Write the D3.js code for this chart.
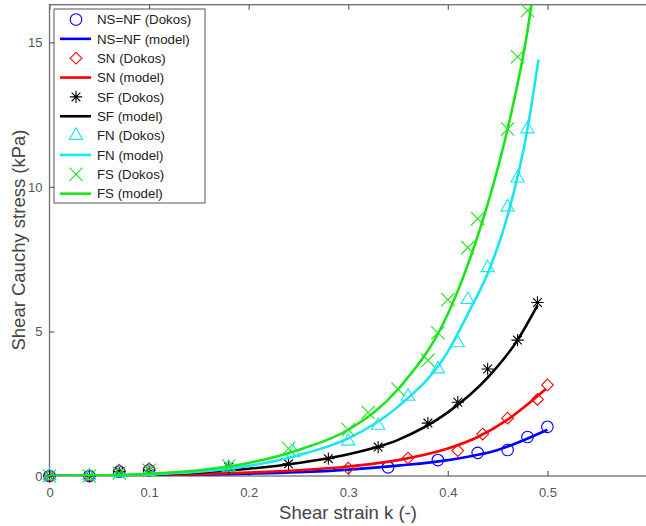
<!DOCTYPE html>
<html>
<head>
<meta charset="utf-8">
<script src="https://cdn.jsdelivr.net/npm/d3@7"></script>
<style>
  body { margin: 0; background: #fff; }
  text { font-family: "Liberation Sans", Arial, sans-serif; }
</style>
</head>
<body>
<div id="chart"></div>
<script>
// Dokos data (markers)
var nsK = [0, 0.04, 0.07, 0.1, 0.34, 0.39, 0.43, 0.46, 0.48, 0.5];
var nsV = [0, 0, 0.15, 0.2, 0.3, 0.55, 0.8, 0.9, 1.35, 1.7];
var snK = [0, 0.04, 0.07, 0.1, 0.3, 0.36, 0.41, 0.435, 0.46, 0.49, 0.5];
var snV = [0, 0, 0.2, 0.25, 0.27, 0.62, 0.88, 1.45, 2.0, 2.65, 3.15];
var sfK = [0, 0.04, 0.07, 0.1, 0.18, 0.24, 0.28, 0.33, 0.38, 0.41, 0.44, 0.47, 0.49];
var sfV = [0, 0, 0.15, 0.2, 0.3, 0.42, 0.6, 1.0, 1.83, 2.55, 3.7, 4.7, 6.0];
var fnK = [0, 0.04, 0.07, 0.1, 0.18, 0.245, 0.3, 0.33, 0.36, 0.39, 0.41, 0.42, 0.44, 0.46, 0.47, 0.48];
var fnV = [0, 0, 0.1, 0.15, 0.3, 0.8, 1.2, 1.75, 2.75, 3.7, 4.6, 6.1, 7.2, 9.3, 10.3, 12.0];
var fsK = [0, 0.04, 0.07, 0.1, 0.18, 0.24, 0.3, 0.32, 0.35, 0.38, 0.39, 0.4, 0.42, 0.43, 0.46, 0.47, 0.48];
var fsV = [0, 0, 0.1, 0.2, 0.35, 0.95, 1.6, 2.2, 3.0, 4.0, 4.95, 6.1, 7.9, 8.9, 12.0, 14.5, 16.1];

// model curves
var nsModelK = [0, 0.05, 0.1, 0.15, 0.2, 0.25, 0.3, 0.35, 0.4, 0.45, 0.5];
var nsModelV = [0, 0.005, 0.02, 0.05, 0.08, 0.13, 0.22, 0.36, 0.55, 0.9, 1.6];
var snModelK = [0, 0.05, 0.1, 0.15, 0.2, 0.25, 0.3, 0.35, 0.4, 0.43, 0.46, 0.498];
var snModelV = [0, 0.01, 0.03, 0.06, 0.12, 0.2, 0.33, 0.55, 0.95, 1.35, 1.95, 3.0];
var sfModelK = [0, 0.05, 0.1, 0.15, 0.2, 0.25, 0.3, 0.35, 0.4, 0.44, 0.47, 0.49];
var sfModelV = [0, 0.01, 0.04, 0.12, 0.25, 0.45, 0.75, 1.25, 2.2, 3.4, 4.7, 5.9];
var fnModelK = [0, 0.05, 0.1, 0.15, 0.2, 0.25, 0.3, 0.35, 0.4, 0.42, 0.44, 0.46, 0.48, 0.491];
var fnModelV = [0, 0.02, 0.06, 0.15, 0.35, 0.72, 1.3, 2.4, 4.3, 5.6, 7.0, 9.0, 12.0, 14.4];
var fsModelK = [0, 0.05, 0.1, 0.15, 0.2, 0.25, 0.3, 0.35, 0.4, 0.42, 0.44, 0.46, 0.48, 0.484];
var fsModelV = [0, 0.02, 0.08, 0.2, 0.45, 0.9, 1.6, 3.0, 5.6, 7.3, 9.4, 12.0, 15.4, 16.3];

var xTicks = [0, 0.1, 0.2, 0.3, 0.4, 0.5];
var yTicks = [0, 5, 10, 15];

var names = ["NS=NF", "SN", "SF", "FN", "FS"];
var colors = ["#0000ff", "#ff0000", "#000000", "#19e6f0", "#19e619"];

var svg = d3.select("#chart").append("svg")
  .attr("width", 646)
  .attr("height", 526);

var x = d3.scaleLinear().domain([0, 0.6]).range([49.5, 647]);
var y = d3.scaleLinear().domain([0, 16.3]).range([476, 4.7]);

// 4-line asterisk like matlab
var star = {
  draw: function(ctx, size) {
    var r = Math.sqrt(size) * 0.6, d = r * 0.7071;
    ctx.moveTo(-r, 0); ctx.lineTo(r, 0);
    ctx.moveTo(0, -r); ctx.lineTo(0, r);
    ctx.moveTo(-d, -d); ctx.lineTo(d, d);
    ctx.moveTo(-d, d); ctx.lineTo(d, -d);
  }
};
var symbols = [
  d3.symbol().type(d3.symbolCircle).size(105),
  d3.symbol().type(d3.symbolDiamond2).size(88),
  d3.symbol().type(star).size(105),
  d3.symbol().type(d3.symbolTriangle2).size(125),
  d3.symbol().type(d3.symbolTimes).size(115)
];

var series = [
  {k: nsK, v: nsV, mk: nsModelK, mv: nsModelV},
  {k: snK, v: snV, mk: snModelK, mv: snModelV},
  {k: sfK, v: sfV, mk: sfModelK, mv: sfModelV},
  {k: fnK, v: fnV, mk: fnModelK, mv: fnModelV},
  {k: fsK, v: fsV, mk: fsModelK, mv: fsModelV}
];

svg.append("clipPath").attr("id", "clip")
  .append("rect").attr("x", 49.5).attr("y", 4.7).attr("width", 600).attr("height", 476 - 4.7);

var axisColor = "#6e6e6e";

// axes box + ticks
svg.append("rect")
  .attr("x", x(0)).attr("y", y(16.3))
  .attr("width", x(0.6) - x(0)).attr("height", y(0) - y(16.3))
  .attr("fill", "none").attr("stroke", axisColor).attr("stroke-width", 1.3);

var xAxis = svg.append("g").attr("transform", "translate(0," + y(0) + ")")
  .call(d3.axisBottom(x).tickValues(xTicks).tickSize(-5).tickPadding(12)
    .tickFormat(function(d) { return d === 0 ? "0" : d3.format(".1f")(d); }));
var xAxisTop = svg.append("g").attr("transform", "translate(0," + y(16.3) + ")")
  .call(d3.axisTop(x).tickValues(xTicks).tickSize(-5).tickFormat(""));
var yAxis = svg.append("g").attr("transform", "translate(" + x(0) + ",0)")
  .call(d3.axisLeft(y).tickValues(yTicks).tickSize(-5).tickPadding(7));

[xAxis, xAxisTop, yAxis].forEach(function(g) {
  g.select(".domain").remove();
  g.selectAll("line").attr("stroke", axisColor).attr("stroke-width", 1.3);
  g.selectAll("text").attr("fill", "#555").style("font-size", "13px")
    .style("font-family", "Liberation Sans, Arial, sans-serif");
});

// data
var plot = svg.append("g");
var line = d3.line()
  .x(function(d) { return x(d[0]); })
  .y(function(d) { return y(d[1]); })
  .curve(d3.curveMonotoneX);

series.forEach(function(s, i) {
  plot.append("g").selectAll("path")
    .data(s.k.map(function(kk, j) { return [kk, s.v[j]]; }))
    .enter().append("path")
    .attr("d", symbols[i])
    .attr("transform", function(d) { return "translate(" + x(d[0]) + "," + y(d[1]) + ")"; })
    .attr("fill", "none")
    .attr("stroke", colors[i])
    .attr("stroke-width", 1.1);

  plot.append("path")
    .datum(s.mk.map(function(kk, j) { return [kk, s.mv[j]]; }))
    .attr("d", line)
    .attr("clip-path", "url(#clip)")
    .attr("fill", "none")
    .attr("stroke", colors[i])
    .attr("stroke-width", 2.6);
});

// axis labels
svg.append("text")
  .attr("x", 348).attr("y", 519)
  .attr("text-anchor", "middle")
  .attr("fill", "#444")
  .style("font-size", "18.5px")
  .text("Shear strain k (-)");

svg.append("text")
  .attr("transform", "translate(25,240) rotate(-90)")
  .attr("text-anchor", "middle")
  .attr("fill", "#444")
  .style("font-size", "18.5px")
  .text("Shear Cauchy stress (kPa)");

// legend
var legend = svg.append("g");
legend.append("rect")
  .attr("x", 54).attr("y", 9).attr("width", 151).attr("height", 194)
  .attr("fill", "#fff").attr("stroke", "#555").attr("stroke-width", 1);

names.forEach(function(n, i) {
  var y0 = 19.5 + i * 2 * 19.35, y1 = y0 + 19.35;
  legend.append("path")
    .attr("d", symbols[i])
    .attr("transform", "translate(76," + y0 + ")")
    .attr("fill", "none").attr("stroke", colors[i]).attr("stroke-width", 1.1);
  legend.append("text").attr("x", 97).attr("y", y0 + 4.7)
    .attr("fill", "#222").style("font-size", "13.3px").text(n + " (Dokos)");
  legend.append("line")
    .attr("x1", 60).attr("x2", 91).attr("y1", y1).attr("y2", y1)
    .attr("stroke", colors[i]).attr("stroke-width", 2.6);
  legend.append("text").attr("x", 97).attr("y", y1 + 4.7)
    .attr("fill", "#222").style("font-size", "13.3px").text(n + " (model)");
});
</script>
</body>
</html>
